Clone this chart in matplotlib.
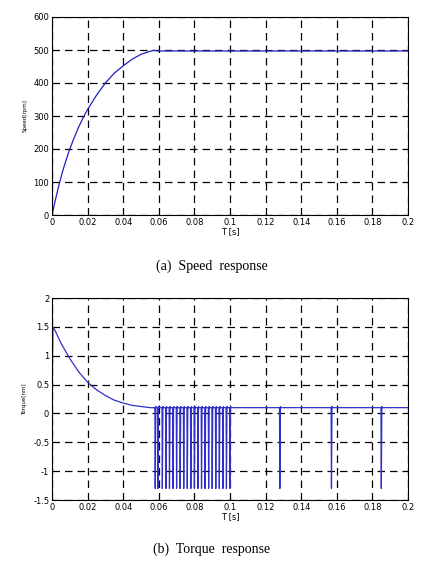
import matplotlib.pyplot as plt

# speed response
speed_t = [0, 0.002, 0.004, 0.006, 0.008, 0.01, 0.012, 0.015, 0.018, 0.02, 0.025, 0.03,
           0.035, 0.04, 0.045, 0.05, 0.055, 0.057, 0.06, 0.08, 0.1, 0.12, 0.14, 0.16, 0.18, 0.2]
speed_v = [0, 48, 93, 133, 168, 200, 228, 267, 300, 320, 363, 400,
           430, 452, 472, 487, 496, 499, 497, 497, 497, 497, 497, 497, 497, 497]

# torque response: smooth decay then spikes
torque_t = [0, 0.0005, 0.002, 0.005, 0.01, 0.015, 0.02, 0.025, 0.03, 0.035, 0.04, 0.045, 0.05, 0.055, 0.058]
torque_v = [0, 1.5, 1.42, 1.22, 0.95, 0.72, 0.54, 0.41, 0.31, 0.23, 0.18, 0.14, 0.12, 0.1, 0.1]
spike_t = [0.058, 0.0595, 0.062, 0.064, 0.066, 0.068, 0.070, 0.072, 0.074, 0.076, 0.078,
           0.080, 0.082, 0.084, 0.086, 0.088, 0.090, 0.092, 0.094, 0.096, 0.098, 0.100,
           0.128, 0.157, 0.185]
spike_min = -1.3
base = 0.1

tt, tv = list(torque_t), list(torque_v)
for s in spike_t:
    tt += [s - 0.0002, s, s + 0.0003, s + 0.0005]
    tv += [base, spike_min, base + 0.02, base]
tt.append(0.2)
tv.append(base)

x_ticks = [0, 0.02, 0.04, 0.06, 0.08, 0.1, 0.12, 0.14, 0.16, 0.18, 0.2]
x_labels = ['0', '0.02', '0.04', '0.06', '0.08', '0.1', '0.12', '0.14', '0.16', '0.18', '0.2']
ty_ticks = [-1.5, -1, -0.5, 0, 0.5, 1, 1.5, 2]
ty_labels = ['-1.5', '-1', '-0.5', '0', '0.5', '1', '1.5', '2']

plt.rcParams['font.family'] = 'DejaVu Sans'
fig = plt.figure(figsize=(4.24, 5.70), dpi=100)
ax1 = fig.add_axes([52/424, 1 - 215/570, 356/424, 198/570])
ax2 = fig.add_axes([52/424, 1 - 500/570, 356/424, 202/570])

ax1.plot(speed_t, speed_v, color='#2020c0', lw=0.9)
ax1.set_ylim(0, 600)
ax1.set_ylabel('Speed[rpm]', fontsize=4)

ax2.plot(tt, tv, color='#3030c8', lw=0.9)
ax2.set_ylim(-1.5, 2)
ax2.set_yticks(ty_ticks)
ax2.set_yticklabels(ty_labels)
ax2.set_ylabel('Torque[nm]', fontsize=4)

for ax in (ax1, ax2):
    ax.set_xlim(0, 0.2)
    ax.set_xticks(x_ticks)
    ax.set_xticklabels(x_labels)
    ax.grid(True, color='black', linestyle=(0, (6, 4)), lw=0.9)
    ax.tick_params(labelsize=6, length=0, pad=2)
    ax.set_xlabel('T [s]', fontsize=6, labelpad=0)
    for sp in ax.spines.values():
        sp.set_linewidth(0.8)

fig.text(0.5, 1 - 266/570, '(a)  Speed  response', ha='center', va='center',
         fontsize=10, family='Liberation Serif')
fig.text(0.5, 1 - 549/570, '(b)  Torque  response', ha='center', va='center',
         fontsize=10, family='Liberation Serif')

fig.savefig('out.png', dpi=100)
